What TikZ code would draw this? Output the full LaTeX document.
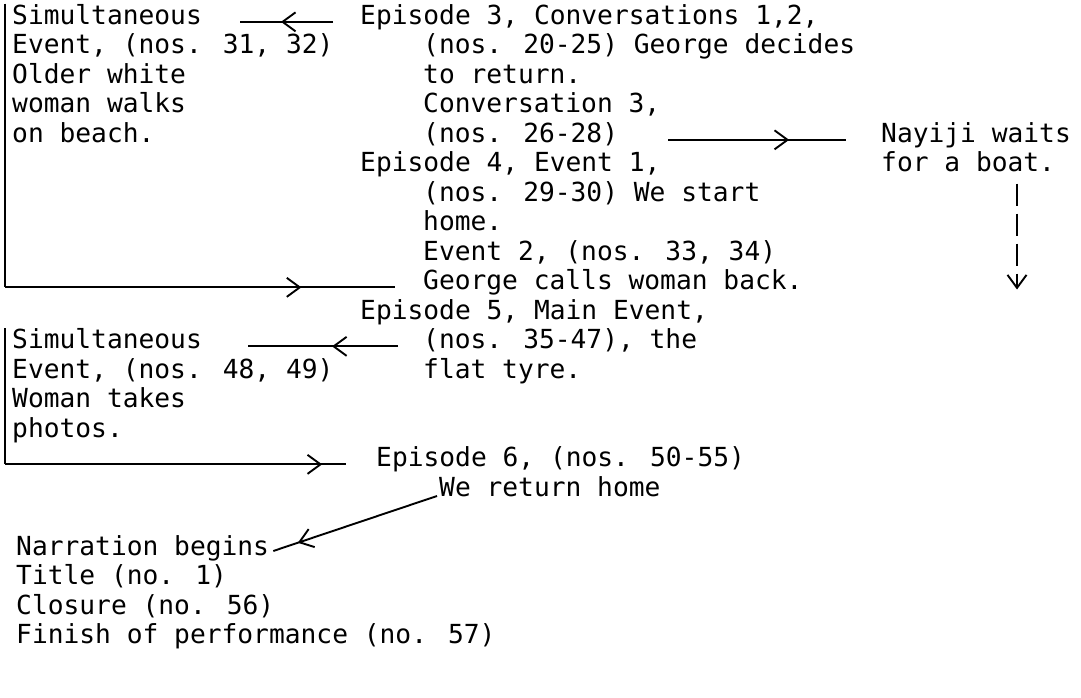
\documentclass[tikz,border=0pt]{standalone}
\usepackage{fontspec}
\newfontfamily\plotfont{DejaVu Sans Mono}
\usetikzlibrary{arrows.meta, decorations.markings}

\tikzset{
  txt/.style={font=\plotfont\fontsize{26.25}{29.5}\selectfont, anchor=base west, inner sep=0pt},
  link/.style={line width=1.9pt},
  midhead/.style={postaction={decorate}, decoration={markings,
      mark=at position #1 with {\arrow{Straight Barb[length=13pt,width=19pt]}}}}
}

\begin{document}
\begin{tikzpicture}[x=1pt, y=-1pt]
\fill[white] (0,0) rectangle (1081,697);
\useasboundingbox (0,0) rectangle (1081,697);

% --- first simultaneous event ---
\node[txt] (simA1) at (12,24) {Simultaneous};
\node[txt] (simA2) at (12,53.5) {Event, (nos. 31, 32)};
\node[txt] (simA3) at (12,83) {Older white};
\node[txt] (simA4) at (12,112.5) {woman walks};
\node[txt] (simA5) at (12,142) {on beach.};

% --- episode 3 ---
\node[txt] (epiC1) at (360,24) {Episode 3, Conversations 1,2,};
\node[txt] (epiC2) at (423,53.5) {(nos. 20-25) George decides};
\node[txt] (epiC3) at (423,83) {to return.};
\node[txt] (epiC4) at (423,112.5) {Conversation 3,};
\node[txt] (epiC5) at (423,142) {(nos. 26-28)};

% --- Nayiji ---
\node[txt] (naya1) at (881,142) {Nayiji waits};
\node[txt] (naya2) at (881,171.5) {for a boat.};

% --- episode 4 ---
\node[txt] (epiD1) at (360,171.5) {Episode 4, Event 1,};
\node[txt] (epiD2) at (423,201) {(nos. 29-30) We start};
\node[txt] (epiD3) at (423,230.5) {home.};
\node[txt] (epiD4) at (423,260) {Event 2, (nos. 33, 34)};
\node[txt] (epiD5) at (423,289.5) {George calls woman back.};

% --- episode 5 ---
\node[txt] (epiE1) at (360,319) {Episode 5, Main Event,};
\node[txt] (epiE2) at (423,348.5) {(nos. 35-47), the};
\node[txt] (epiE3) at (423,378) {flat tyre.};

% --- second simultaneous event ---
\node[txt] (simB1) at (12,348.5) {Simultaneous};
\node[txt] (simB2) at (12,378) {Event, (nos. 48, 49)};
\node[txt] (simB3) at (12,407.5) {Woman takes};
\node[txt] (simB4) at (12,437) {photos.};

% --- episode 6 ---
\node[txt] (epiF1) at (376,466.5) {Episode 6, (nos. 50-55)};
\node[txt] (epiF2) at (439,496) {We return home};

% --- narration frame ---
\node[txt] (frame1) at (16,555) {Narration begins};
\node[txt] (frame2) at (16,584.5) {Title (no. 1)};
\node[txt] (frame3) at (16,614) {Closure (no. 56)};
\node[txt] (frame4) at (16,643.5) {Finish of performance (no. 57)};

% arrows
\draw[link, midhead=0.56] ([xshift=-27pt]epiC1.mid west) -- ([xshift=38pt]simA1.mid east);
\draw[link, midhead=0.68] ([xshift=50pt]epiC5.mid east) -- ([xshift=-35pt]naya1.mid west);

\coordinate (waitTop) at ([xshift=136pt,yshift=-12pt]naya2.base west);
\coordinate (waitEnd) at (waitTop |- epiD5.base);
\draw[link, dash pattern=on 22pt off 8pt, -{Straight Barb[length=13pt,width=19pt]}] (waitTop) -- (waitEnd);

% bracket back to episode 4
\coordinate (brA) at ([xshift=-7pt]simA1.north west);
\coordinate (brAc) at (brA |- epiD5.mid west);
\draw[link] (brA) -- (brAc);
\draw[link, midhead=0.76] (brAc) -- ([xshift=-28pt]epiD5.mid west);

\draw[link, midhead=0.44] ([xshift=-25pt]epiE2.mid west) -- ([xshift=46pt]simB1.mid east);

% bracket into episode 6
\coordinate (brB) at ([xshift=-7pt]simB1.north west);
\coordinate (brBc) at (brB |- epiF1.mid west);
\draw[link] (brB) -- (brBc);
\draw[link, midhead=0.93] (brBc) -- ([xshift=-30pt]epiF1.mid west);

\draw[link, midhead=0.85] ([xshift=-2pt]epiF2.base west) -- ([xshift=4pt,yshift=4pt]frame1.base east);

\end{tikzpicture}
\end{document}
